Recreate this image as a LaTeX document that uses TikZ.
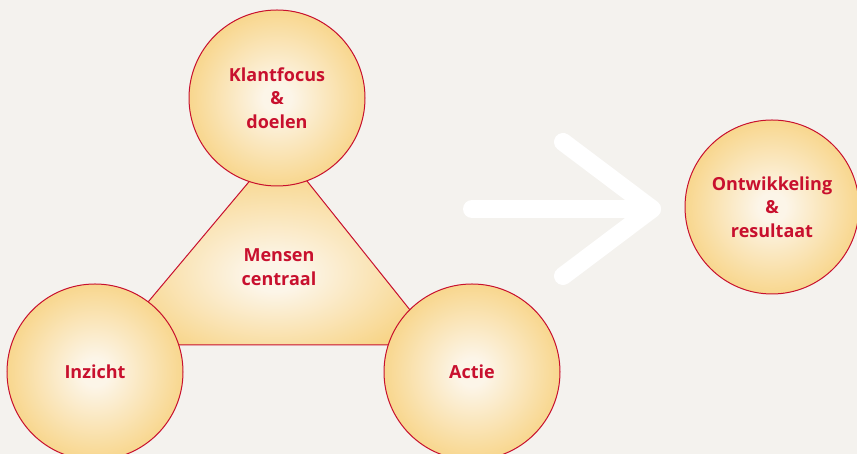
\documentclass[tikz,border=0pt]{standalone}
\usepackage{fontspec}
\setmainfont{Open Sans}
\usepackage{tikz}
\usepackage{xcolor}

\definecolor{achter}{HTML}{F4F2EE}
\definecolor{rood}{HTML}{C8102E}
\definecolor{goud}{HTML}{F5BE45}
\definecolor{licht}{HTML}{FCF5E8}

\pgfdeclareradialshading{gloed}{\pgfpoint{0bp}{0bp}}{color(0bp)=(licht); color(4bp)=(licht); color(42bp)=(goud); color(50bp)=(goud)}
\pgfdeclareradialshading{gloeddriehoek}{\pgfpoint{0bp}{-8bp}}{color(0bp)=(licht); color(4bp)=(licht); color(40bp)=(goud); color(70bp)=(goud)}

\tikzset{
  bol/.style={circle, draw=rood, line width=1pt, shading=gloed, minimum size=176pt, inner sep=0pt,
    text=rood, align=center, font=\fontsize{18}{23.5}\selectfont\bfseries}
}

\begin{document}
\begin{tikzpicture}[x=1pt,y=1pt]
        \fill[achter] (0,0) rectangle (857,454);
        \clip (0,0) rectangle (857,454);
        % driehoek achter de bollen
        \draw[rood, line width=1pt, shading=gloeddriehoek] (112,109) -- (438,109) -- (279,308) -- cycle;
        \node[rood, align=center, font=\fontsize{18}{23.5}\selectfont\bfseries] (mensen) at (279,187) {Mensen\\centraal};
        \node[bol] (klant) at (277,356) {Klantfocus\\\&\\doelen};
        \node[bol] (inzicht) at (95,82) {Inzicht};
        \node[bol] (actie) at (472,82) {Actie};
        \node[bol, minimum size=174pt] (resultaat) at (772,247) {Ontwikkeling\\\&\\resultaat};
        % witte pijl
        \coordinate (start) at (472,245);
        \coordinate (punt) at (652,245);
        \draw[white, line width=18pt, line cap=round, line join=round] (start) -- (punt);
        \draw[white, line width=18pt, line cap=round, line join=round] (563,312) -- (punt) -- (563,178);
    \end{tikzpicture}
\end{document}
